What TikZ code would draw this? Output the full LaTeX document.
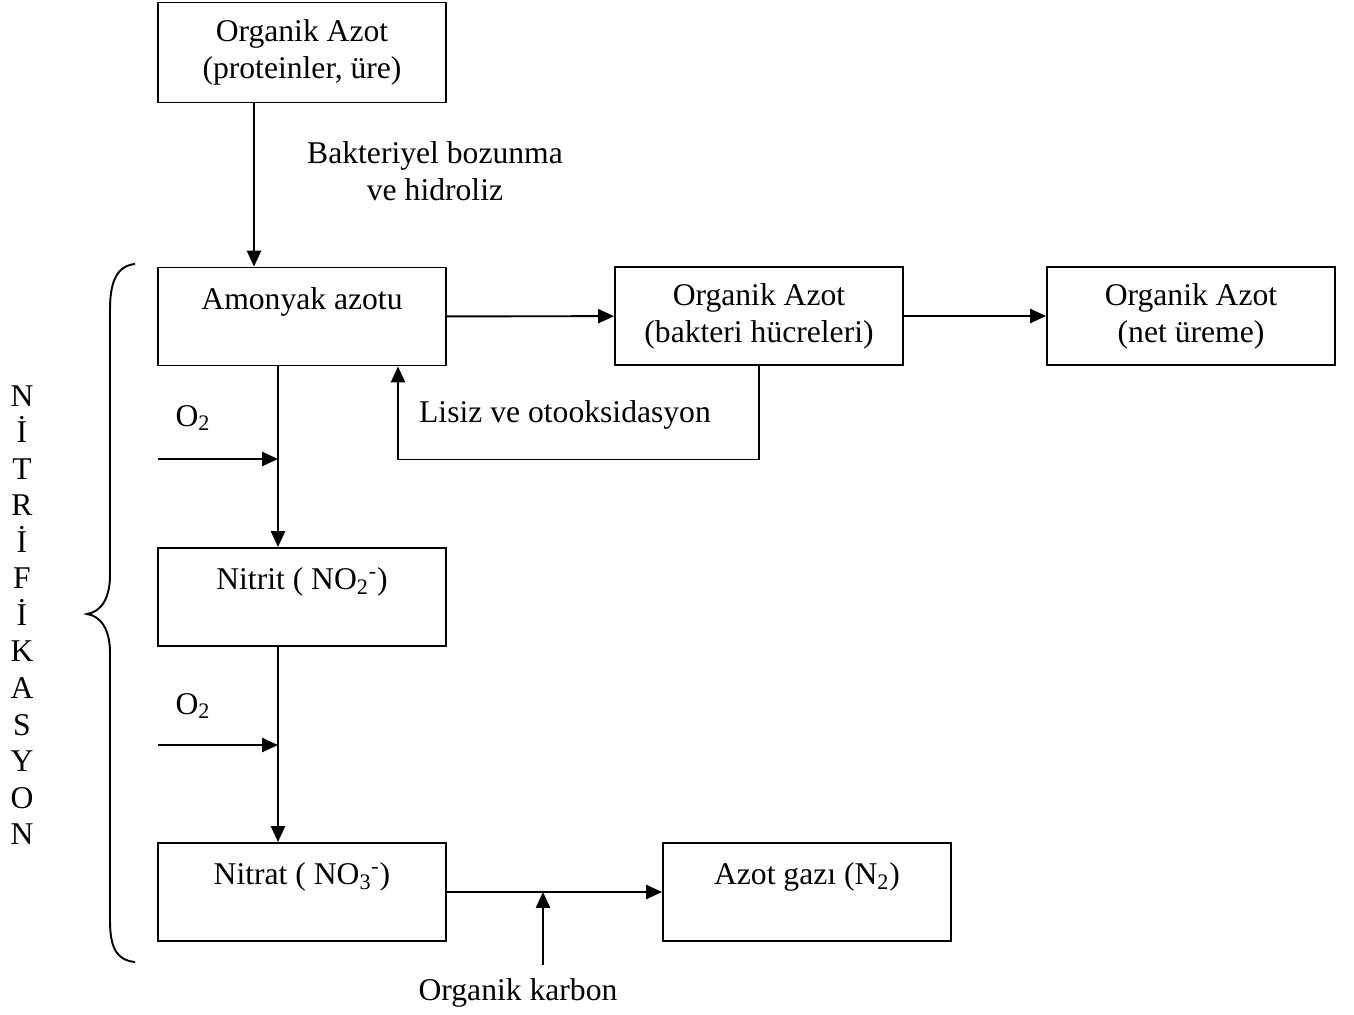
\documentclass[tikz,border=0pt]{standalone}
\usepackage{fontspec}
\setmainfont{Liberation Serif}
\usetikzlibrary{arrows.meta}

\begin{document}
\begin{tikzpicture}[
    box/.style={draw=black, line width=1.1pt, minimum width=5.76cm, minimum height=1.96cm, align=center, inner sep=0pt},
    arr/.style={line width=1.1pt, -{Triangle[length=9pt, width=8pt]}},
    font=\fontsize{18}{21}\selectfont]
    \useasboundingbox (0,0) rectangle (27.08,-20.28);
    % kutular
    \node[box, minimum height=2cm] (protein) at (6.04,-1.05) {Organik Azot\\(proteinler, üre)};
    \node[box] (amonyak) at (6.04,-6.33) {Amonyak azotu\\\mbox{}};
    \node[box] (bakteri) at (15.18,-6.32) {Organik Azot\\(bakteri hücreleri)};
    \node[box] (ureme) at (23.82,-6.32) {Organik Azot\\(net üreme)};
    \node[box] (nitrit) at (6.04,-11.94) {Nitrit ( NO\textsubscript{2}\textsuperscript{-})\\\mbox{}};
    \node[box] (nitrat) at (6.04,-17.84) {Nitrat ( NO\textsubscript{3}\textsuperscript{-})\\\mbox{}};
    \node[box] (gaz) at (16.14,-17.84) {Azot gazı (N\textsubscript{2})\\\mbox{}};
    % etiketler
    \node[align=center] (bozunma) at (8.7,-3.42) {Bakteriyel bozunma\\ve hidroliz};
    \node (lisiz) at (11.3,-8.3) {Lisiz ve otooksidasyon};
    \node (oksijen1) at (3.86,-8.36) {O\textsubscript{2}};
    \node (oksijen2) at (3.86,-14.12) {O\textsubscript{2}};
    \node (karbon) at (10.36,-19.86) {Organik karbon};
    \node[align=center, font=\fontsize{18}{20.8}\selectfont] (nitrifikasyon) at (0.44,-12.3)
        {N\\İ\\T\\R\\İ\\F\\İ\\K\\A\\S\\Y\\O\\N};
    % oklar
    \coordinate (o2a) at (3.16,-9.18);
    \coordinate (j1) at (5.56,-9.18);
    \coordinate (o2b) at (3.16,-14.9);
    \coordinate (j2) at (5.56,-14.9);
    \coordinate (kb) at (10.86,-19.3);
    \draw[arr] ([xshift=-0.96cm]protein.south) -- ([xshift=-0.96cm]amonyak.north);
    \draw[arr] (amonyak) -- (bakteri);
    \draw[arr] (bakteri) -- (ureme);
    \draw[arr] (bakteri.south) -- ++(0,-1.87) -| ([xshift=1.92cm]amonyak.south);
    \draw[arr] ([xshift=-0.48cm]amonyak.south) -- ([xshift=-0.48cm]nitrit.north);
    \draw[arr] (o2a) -- (j1);
    \draw[arr] ([xshift=-0.48cm]nitrit.south) -- ([xshift=-0.48cm]nitrat.north);
    \draw[arr] (o2b) -- (j2);
    \draw[arr] (nitrat) -- (gaz);
    \draw[arr] (kb) -- (kb |- nitrat);
    % parantez
    \draw[line width=1.1pt] (2.7,-5.28) .. controls (2.3,-5.32) and (2.2,-5.7) .. (2.2,-6.2)
        -- (2.2,-11.5) .. controls (2.2,-12.0) and (2.0,-12.24) .. (1.74,-12.28)
        .. controls (2.0,-12.32) and (2.2,-12.56) .. (2.2,-13.06)
        -- (2.2,-18.4) .. controls (2.2,-18.9) and (2.3,-19.2) .. (2.7,-19.24);
\end{tikzpicture}
\end{document}
